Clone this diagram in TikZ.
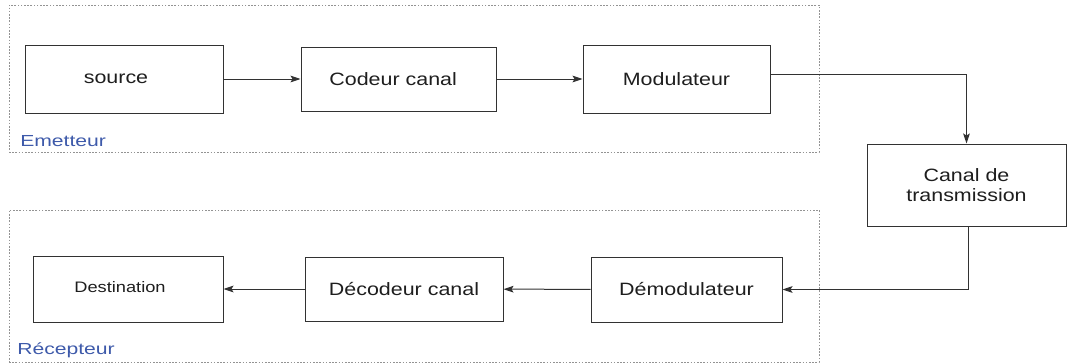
\documentclass[tikz,border=0pt]{standalone}
\usepackage{fontspec}
\setmainfont{Liberation Sans}[FakeStretch=1.2]
\newfontfamily\lblfont{Liberation Sans}[FakeStretch=1.32]
\usetikzlibrary{arrows.meta}
\definecolor{lblblue}{RGB}{62,90,170}
\definecolor{boxline}{RGB}{50,50,50}
\definecolor{txt}{RGB}{30,30,30}
\tikzset{
  blk/.style={draw=boxline, line width=0.75pt, inner sep=0pt, text=txt, font=\fontsize{13.4pt}{15.5pt}\selectfont, align=center},
  grp/.style={draw=gray!85, line width=0.75pt, dash pattern=on 1.2pt off 1.2pt},
  grplbl/.style={text=lblblue, inner sep=0pt, anchor=base west, font=\lblfont\fontsize{12pt}{14pt}\selectfont},
  conn/.style={draw=boxline, line width=0.75pt, -{Stealth[length=7.5pt,width=5pt,inset=1.5pt]}},
}
\begin{document}
\begin{tikzpicture}[x=0.75pt,y=-0.75pt]
\useasboundingbox (0,0) rectangle (1068,364);
% groups
\node[grp, minimum width=810*0.75pt, minimum height=147*0.75pt, inner sep=0pt] (emet) at (414,78.5) {};
\node[grp, minimum width=810*0.75pt, minimum height=152*0.75pt, inner sep=0pt] (recep) at (414,286) {};
\node[grplbl] (emetlbl) at (20,146) {Emetteur};
\node[grplbl] (receplbl) at (17,354) {Récepteur};
% blocks
\node[blk, minimum width=198*0.75pt, minimum height=68*0.75pt] (source) at (124,79) {source\kern12pt};
\node[blk, minimum width=195*0.75pt, minimum height=64*0.75pt] (codeur) at (398.5,79) {Codeur canal\kern8pt};
\node[blk, minimum width=187*0.75pt, minimum height=68*0.75pt] (mod) at (676.5,79) {Modulateur};
\node[blk, minimum width=199*0.75pt, minimum height=82*0.75pt] (canal) at (966.5,185) {Canal de\\transmission};
\node[blk, minimum width=190*0.75pt, minimum height=66*0.75pt, font=\fontsize{11.4pt}{13pt}\selectfont] (dest) at (128,289) {\raisebox{3pt}{Destination}\kern12pt};
\node[blk, minimum width=198*0.75pt, minimum height=64*0.75pt] (decod) at (404,289) {Décodeur canal};
\node[blk, minimum width=191*0.75pt, minimum height=65*0.75pt] (demod) at (686.5,289.5) {Démodulateur};
% connectors
\draw[conn] (source) -- (codeur);
\draw[conn] (codeur) -- (mod);
\draw[conn] ([yshift=3.5pt]mod.east) -| (canal.north);
\draw[conn] ([xshift=1.5pt]canal.south) |- (demod.east);
\draw[conn] (demod) -- (decod);
\draw[conn] (decod) -- (dest);
\end{tikzpicture}
\end{document}
